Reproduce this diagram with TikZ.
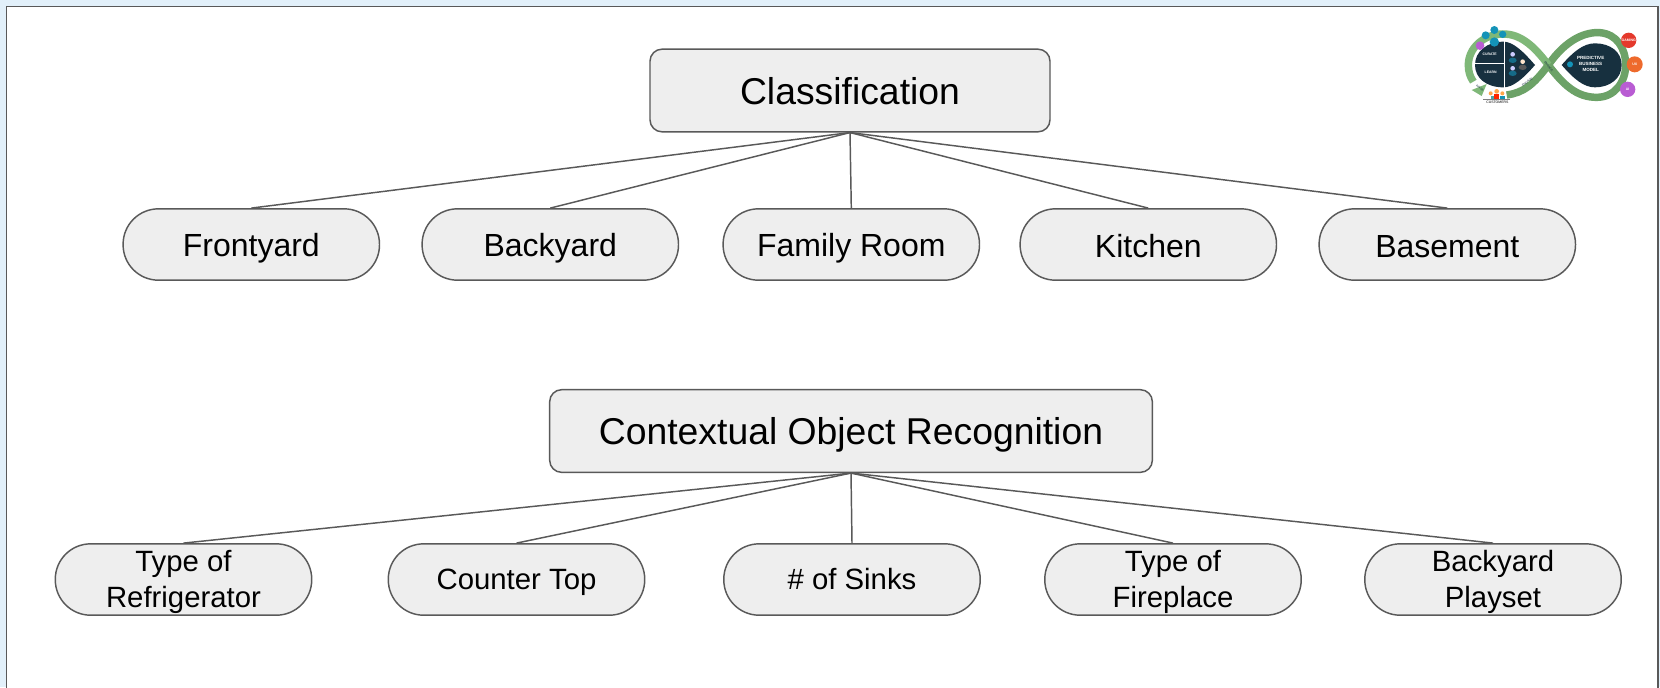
\documentclass[tikz,border=0pt]{standalone}
\usepackage{fontspec}
\setmainfont{Liberation Sans}
\usetikzlibrary{calc}
\definecolor{boxfill}{HTML}{EEEEEE}
\definecolor{edgegray}{HTML}{595959}
\definecolor{bgblue}{HTML}{E2F0FA}
\definecolor{logodark}{HTML}{17303F}
\definecolor{logogreen}{HTML}{7FB878}
\definecolor{logogreend}{HTML}{6CA267}
\definecolor{logoteal}{HTML}{1493B8}
\definecolor{logored}{HTML}{E4392C}
\definecolor{logoorange}{HTML}{EE6A2C}
\definecolor{logopurple}{HTML}{B95CD3}
\newcommand{\hstrut}{\rule[-5pt]{0pt}{31pt}}
\newcommand{\astrut}{\rule[-3.8pt]{0pt}{26.8pt}}
\newcommand{\bstrut}{\rule[-4.4pt]{0pt}{24.2pt}}
\tikzset{
  headbox/.style={draw=edgegray,line width=1.1pt,fill=boxfill,rounded corners=9pt,inner sep=0pt,minimum height=62pt,font=\fontsize{28}{32}\selectfont},
  pillA/.style={draw=edgegray,line width=1.1pt,fill=boxfill,rounded corners=26.5pt,inner sep=0pt,minimum width=192.3pt,minimum height=53.5pt,align=center,font=\fontsize{24}{27}\selectfont},
  pillB/.style={draw=edgegray,line width=1.1pt,fill=boxfill,rounded corners=26.5pt,inner sep=0pt,minimum width=192.3pt,minimum height=53.5pt,align=center,font=\fontsize{22}{27}\selectfont},
  link/.style={draw=edgegray,line width=1.1pt},
  tiny/.style={text=white,inner sep=0pt,align=center,font=\fontsize{2.6}{3}\selectfont\bfseries}
}
\begin{document}
\begin{tikzpicture}[x=0.75pt,y=-0.75pt]
\useasboundingbox (0,0) rectangle (1660,687);
\fill[bgblue] (0,0) rectangle (1660,687);
\path[fill=white,draw=edgegray,line width=1.3pt] (6.5,6.5) -- (1658,6.5) -- (1658,690) -- (6.5,690) -- cycle;

\node[headbox,minimum width=300pt] (cls) at (850,90.5) {\hstrut Classification};
\node[pillA] (a1) at (251.3,244.5) {\astrut Frontyard};
\node[pillA] (a2) at (550.3,244.5) {\astrut Backyard};
\node[pillA] (a3) at (851.3,244.5) {\astrut Family Room};
\node[pillA] (a4) at (1148.3,244.5) {\astrut Kitchen};
\node[pillA] (a5) at (1447.3,244.5) {\astrut Basement};
\foreach \n in {a1,a2,a3,a4,a5} \draw[link] (cls.south) -- (\n.north);

\node[headbox,minimum width=452pt] (ctx) at (851,431) {\hstrut Contextual Object Recognition};
\node[pillB] (b1) at (183.5,579.5) {\bstrut Type of\\\bstrut Refrigerator};
\node[pillB] (b2) at (516.5,579.5) {\bstrut Counter Top};
\node[pillB] (b3) at (852,579.5) {\bstrut \# of Sinks};
\node[pillB] (b4) at (1173,579.5) {\bstrut Type of\\\bstrut Fireplace};
\node[pillB] (b5) at (1493,579.5) {\bstrut Backyard\\\bstrut Playset};
\foreach \n in {b1,b2,b3,b4,b5} \draw[link] (ctx.south) -- (\n.north);

% logo
\begin{scope}[shift={(1440,10)},x=0.25pt,y=-0.25pt]
  \draw[logogreend,line width=5.6pt] (325,165) .. controls (380,85) and (440,65) .. (480,68) .. controls (530,72) and (557,115) .. (557,165) .. controls (557,215) and (525,262) .. (470,262) .. controls (410,262) and (370,225) .. (325,165);
  \draw[logogreen,line width=5.6pt] (325,165) .. controls (280,105) and (240,72) .. (190,72) .. controls (130,72) and (85,115) .. (85,165) .. controls (85,185) and (90,200) .. (100,215);
  \draw[logogreend,line width=5.6pt] (325,165) .. controls (280,225) and (250,248) .. (200,255);
  \fill[logogreen] (95,240) -- (140,222) -- (125,258) -- cycle;
  \fill[logodark] (285,165) .. controls (250,125) and (220,95) .. (190,95) .. controls (140,95) and (105,125) .. (105,165) .. controls (105,205) and (140,232) .. (190,232) .. controls (220,232) and (250,205) .. (285,165) -- cycle;
  \fill[logodark] (365,165) .. controls (400,125) and (430,100) .. (465,100) .. controls (510,100) and (545,125) .. (545,165) .. controls (545,205) and (510,232) .. (465,232) .. controls (430,232) and (400,205) .. (365,165) -- cycle;
  \draw[white,line width=1.2pt] (193,90) -- (193,238);
  \draw[white,line width=1.2pt] (100,160) -- (193,160);
  \node[tiny] at (149,133) {CURATE};
  \node[tiny] at (152,186) {LEARN};
  \node[tiny,font=\fontsize{3.4}{4.6}\selectfont\bfseries] at (452,162) {PREDICTIVE\\BUSINESS\\MODEL};
  \fill[logoteal] (390,163) circle (9);
  \fill[white!80!blue] (218,133) circle (7); \fill[logoteal!60!logodark] (218,151) ellipse (12 and 8);
  \fill[white!80!orange] (248,155) circle (7); \fill[gray!70!black] (248,172) ellipse (12 and 8);
  \fill[white!80!blue] (218,175) circle (7); \fill[logoteal!60!logodark] (218,190) ellipse (12 and 8);
  \fill[logoteal] (137,76) circle (12);
  \fill[logoteal] (163,60) circle (12);
  \fill[logoteal] (188,73) circle (11);
  \fill[logoteal] (163,96) circle (14);
  \fill[logopurple] (120,107) circle (13);
  \fill[logored] (566,91) circle (23);
  \fill[logoorange] (584,163) circle (24);
  \fill[logopurple] (563,238) circle (23);
  \node[tiny] at (566,91) {GAMING};
  \node[tiny] at (584,163) {UX};
  \node[tiny] at (563,238) {AI};
  \fill[teal!70!white] (152,258) rectangle (166,268);
  \fill[red!70!orange] (163,252) rectangle (178,268);
  \fill[logoteal] (180,258) rectangle (194,268);
  \fill[orange!70!white] (152,250) circle (6) (170,244) circle (7) (187,250) circle (6);
  \draw[gray,line width=0.3pt] (130,269) -- (210,269);
  \node[inner sep=0pt,text=black,font=\fontsize{2.6}{3}\selectfont] at (172,277) {CUSTOMERS};
  \node[inner sep=0pt,text=logodark,rotate=-52,font=\fontsize{2.2}{3}\selectfont] at (326,170) {ENGAGE};
  \node[inner sep=0pt,text=logodark,rotate=35,font=\fontsize{2.2}{3}\selectfont] at (262,216) {ENGAGE};
  \node[inner sep=0pt,text=logodark,rotate=-35,font=\fontsize{2.2}{3}\selectfont] at (120,235) {RAISE};
\end{scope}
\end{tikzpicture}
\end{document}
